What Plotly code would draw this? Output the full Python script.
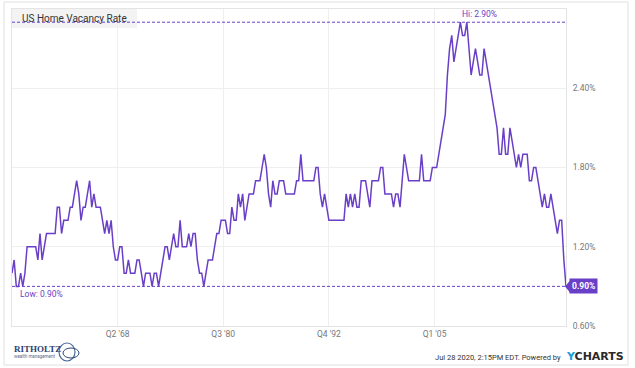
import pandas as pd
import plotly.graph_objects as go

# ---------------- data ----------------
start_quarter = "1956Q1"
vacancy_rate = [
    1.0, 1.1, 0.9, 0.9,   # 1956
    1.0, 0.9, 1.0, 1.2,   # 1957
    1.2, 1.2, 1.2, 1.2,   # 1958
    1.1, 1.3, 1.1, 1.2,   # 1959
    1.3, 1.3, 1.3, 1.3,   # 1960
    1.3, 1.5, 1.5, 1.3,   # 1961
    1.4, 1.4, 1.4, 1.5,   # 1962
    1.5, 1.6, 1.7, 1.6,   # 1963
    1.4, 1.5, 1.5, 1.6,   # 1964
    1.7, 1.5, 1.6, 1.5,   # 1965
    1.5, 1.5, 1.4, 1.3,   # 1966
    1.4, 1.3, 1.4, 1.2,   # 1967
    1.1, 1.1, 1.2, 1.2,   # 1968
    1.0, 1.0, 1.1, 1.0,   # 1969
    1.0, 1.0, 1.1, 1.1,   # 1970
    1.0, 0.9, 1.0, 1.0,   # 1971
    1.0, 0.9, 1.0, 1.0,   # 1972
    0.9, 1.0, 1.1, 1.2,   # 1973
    1.2, 1.1, 1.2, 1.3,   # 1974
    1.2, 1.2, 1.4, 1.2,   # 1975
    1.2, 1.2, 1.3, 1.2,   # 1976
    1.3, 1.3, 1.1, 1.0,   # 1977
    1.0, 0.9, 1.0, 1.1,   # 1978
    1.1, 1.1, 1.2, 1.3,   # 1979
    1.3, 1.4, 1.4, 1.4,   # 1980
    1.3, 1.3, 1.5, 1.4,   # 1981
    1.4, 1.6, 1.5, 1.6,   # 1982
    1.4, 1.5, 1.6, 1.6,   # 1983
    1.6, 1.7, 1.7, 1.7,   # 1984
    1.8, 1.9, 1.8, 1.6,   # 1985
    1.5, 1.7, 1.6, 1.6,   # 1986
    1.7, 1.7, 1.7, 1.6,   # 1987
    1.6, 1.6, 1.6, 1.6,   # 1988
    1.7, 1.7, 1.9, 1.7,   # 1989
    1.7, 1.7, 1.7, 1.7,   # 1990
    1.7, 1.8, 1.8, 1.6,   # 1991
    1.5, 1.6, 1.5, 1.4,   # 1992
    1.4, 1.4, 1.4, 1.4,   # 1993
    1.4, 1.4, 1.4, 1.6,   # 1994
    1.5, 1.6, 1.5, 1.6,   # 1995
    1.5, 1.5, 1.7, 1.7,   # 1996
    1.7, 1.6, 1.5, 1.7,   # 1997
    1.7, 1.7, 1.7, 1.8,   # 1998
    1.8, 1.6, 1.6, 1.6,   # 1999
    1.6, 1.5, 1.6, 1.6,   # 2000
    1.5, 1.7, 1.9, 1.8,   # 2001
    1.7, 1.7, 1.7, 1.7,   # 2002
    1.7, 1.7, 1.9, 1.7,   # 2003
    1.7, 1.7, 1.7, 1.8,   # 2004
    1.8, 1.8, 1.9, 2.0,   # 2005
    2.1, 2.2, 2.5, 2.7,   # 2006
    2.8, 2.6, 2.7, 2.8,   # 2007
    2.9, 2.8, 2.8, 2.9,   # 2008
    2.7, 2.5, 2.6, 2.7,   # 2009
    2.6, 2.5, 2.5, 2.7,   # 2010
    2.6, 2.5, 2.4, 2.3,   # 2011
    2.2, 2.1, 1.9, 1.9,   # 2012
    2.1, 1.9, 1.9, 2.1,   # 2013
    2.0, 1.9, 1.8, 1.9,   # 2014
    1.8, 1.9, 1.9, 1.9,   # 2015
    1.7, 1.7, 1.8, 1.8,   # 2016
    1.7, 1.6, 1.5, 1.6,   # 2017
    1.5, 1.5, 1.6, 1.5,   # 2018
    1.4, 1.3, 1.4, 1.4,   # 2019
    1.1, 0.9,             # 2020
]
x_tick_dates = ["1968-04-01", "1980-07-01", "1992-10-01", "2005-01-01"]
x_tick_labels = ["Q2 '68", "Q3 '80", "Q4 '92", "Q1 '05"]
y_tick_values = [0.6, 1.2, 1.8, 2.4]
y_tick_labels = ["0.60%", "1.20%", "1.80%", "2.40%"]

dates = pd.period_range(start_quarter, periods=len(vacancy_rate), freq="Q").to_timestamp()

# ---------------- styling ----------------
W, H = 635, 368
L, R, T, B = 12, 69, 9, 42
PW, PH = W - L - R, H - T - B
Y_MIN, Y_MAX = 0.6, 3.0
PURPLE = "#6a3fc8"
GRID = "#efefef"
FONT = "Roboto"


def px_x(px):
    return (px - L) / PW


def px_y(py):
    return (H - B - py) / PH


def dy(pixels):
    return pixels * (Y_MAX - Y_MIN) / PH


hi = max(vacancy_rate)
lo = min(vacancy_rate)
last = vacancy_rate[-1]
hi_date = dates[vacancy_rate.index(hi)]

fig = go.Figure()
fig.add_trace(go.Scatter(
    x=dates, y=vacancy_rate, mode="lines",
    line=dict(color=PURPLE, width=1.5),
    hoverinfo="skip", showlegend=False,
))

shapes = [
    # outer frame
    dict(type="rect", xref="paper", yref="paper",
         x0=px_x(4), x1=px_x(628), y0=px_y(365), y1=px_y(2),
         line=dict(color="#e0e0e0", width=1), fillcolor="rgba(0,0,0,0)", layer="below"),
    # title box
    dict(type="rect", xref="paper", yref="paper",
         x0=0, x1=px_x(137), y0=px_y(28), y1=1,
         line=dict(width=0), fillcolor="#f3f3f4", layer="below"),
    # hi / low lines
    dict(type="line", xref="paper", yref="y", x0=0, x1=1, y0=hi, y1=hi,
         line=dict(color=PURPLE, width=1, dash="3px,2px")),
    dict(type="line", xref="paper", yref="y", x0=0, x1=1, y0=lo, y1=lo,
         line=dict(color=PURPLE, width=1, dash="3px,2px")),
    # badge arrow
    dict(type="path", xref="paper", yref="y",
         path=f"M {px_x(565)} {last} L {px_x(570)} {last + dy(6)} L {px_x(570)} {last - dy(6)} Z",
         line=dict(width=0), fillcolor=PURPLE),
    # logo swirls
    dict(type="circle", xref="paper", yref="paper",
         x0=px_x(59), x1=px_x(75), y0=px_y(361), y1=px_y(343),
         line=dict(color="#4a6a9a", width=1.2), fillcolor="rgba(0,0,0,0)"),
    dict(type="circle", xref="paper", yref="paper",
         x0=px_x(63), x1=px_x(79), y0=px_y(358), y1=px_y(348),
         line=dict(color="#2d4778", width=1), fillcolor="rgba(0,0,0,0)"),
]

annotations = [
    dict(xref="paper", yref="paper", x=px_x(20), y=px_y(18.5),
         text="US Home Vacancy Rate", showarrow=False, xanchor="left", yanchor="middle",
         font=dict(family=FONT, size=10, color="#333333")),
    dict(xref="x", yref="y", x=hi_date, y=hi, yshift=1,
         text=f"Hi: {hi:.2f}%", showarrow=False, xanchor="left", yanchor="bottom",
         font=dict(family=FONT, size=8.5, color=PURPLE)),
    dict(xref="paper", yref="y", x=px_x(18), y=lo, yshift=-1,
         text=f"Low: {lo:.2f}%", showarrow=False, xanchor="left", yanchor="top",
         font=dict(family=FONT, size=8.5, color=PURPLE)),
    dict(xref="paper", yref="y", x=px_x(569), y=last,
         text=f"<b>{last:.2f}%</b>", showarrow=False, xanchor="left", yanchor="middle",
         bgcolor=PURPLE, borderpad=2,
         font=dict(family=FONT, size=8.5, color="white")),
    dict(xref="paper", yref="paper", x=px_x(563), y=px_y(357),
         text="Jul 28 2020, 2:15PM EDT. Powered by", showarrow=False,
         xanchor="right", yanchor="middle",
         font=dict(family=FONT, size=7.5, color="#333333")),
    dict(xref="paper", yref="paper", x=px_x(564), y=px_y(356.5),
         text="<b><span style='color:#1a9fdb'>Y</span>CHARTS</b>", showarrow=False,
         xanchor="left", yanchor="middle",
         font=dict(family="DejaVu Sans", size=11, color="#2a2a2a")),
    dict(xref="paper", yref="paper", x=px_x(12), y=px_y(349),
         text="<b>RITHOLTZ</b>", showarrow=False, xanchor="left", yanchor="middle",
         font=dict(family="Liberation Serif", size=9, color="#2d3f70")),
    dict(xref="paper", yref="paper", x=px_x(12), y=px_y(356.5),
         text="wealth management", showarrow=False, xanchor="left", yanchor="middle",
         font=dict(family=FONT, size=4.5, color="#5a6a8a")),
]

fig.update_layout(
    width=W, height=H,
    margin=dict(l=L, r=R, t=T, b=B),
    paper_bgcolor="white", plot_bgcolor="white",
    shapes=shapes, annotations=annotations,
    showlegend=False,
    xaxis=dict(
        range=[dates[0], dates[-1]],
        tickvals=pd.to_datetime(x_tick_dates), ticktext=x_tick_labels,
        showgrid=True, gridcolor=GRID, gridwidth=1,
        showline=True, linecolor="#e4e4e4", mirror=True,
        ticks="", zeroline=False,
        tickfont=dict(family=FONT, size=8.5, color="#777777"),
    ),
    yaxis=dict(
        range=[Y_MIN, Y_MAX], side="right",
        tickvals=y_tick_values, ticktext=y_tick_labels,
        showgrid=True, gridcolor=GRID, gridwidth=1,
        showline=True, linecolor="#e4e4e4", mirror=True,
        ticks="outside", ticklen=4, tickcolor="rgba(0,0,0,0)", zeroline=False,
        tickfont=dict(family=FONT, size=8.5, color="#777777"),
    ),
)

fig.write_html(
    "out.html",
    config={"displayModeBar": False},
    post_script="document.body.style.margin='0';document.body.style.overflow='hidden';",
)
